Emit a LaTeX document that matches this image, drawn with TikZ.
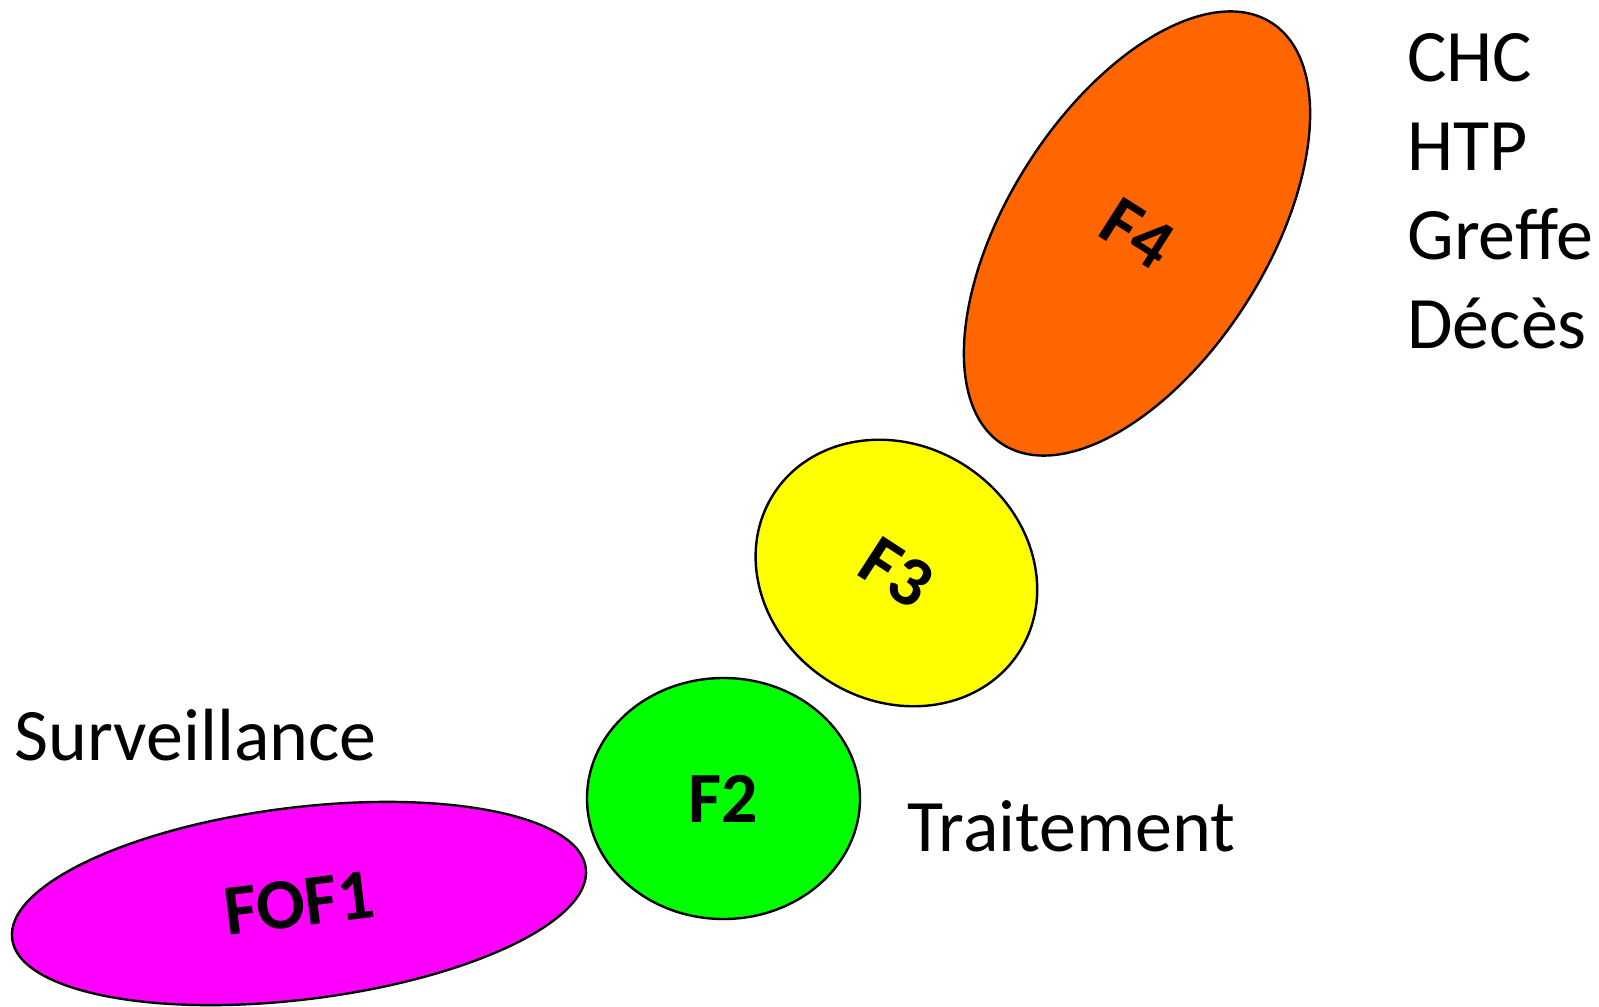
\documentclass[tikz,border=0pt]{standalone}
\usepackage{fontspec}
\setmainfont{Carlito}
\usetikzlibrary{shapes.geometric}
\definecolor{cMag}{HTML}{FF00FF}
\definecolor{cGreen}{HTML}{00FF00}
\definecolor{cYellow}{HTML}{FFFF00}
\definecolor{cOrange}{HTML}{FF6600}
\tikzset{
  blob/.style={ellipse, draw=black, line width=1.2pt, inner sep=0pt,
    font=\fontsize{36}{43}\selectfont\bfseries},
  lbl/.style={anchor=base west, inner sep=0pt, font=\fontsize{37}{44}\selectfont}
}
\begin{document}
\begin{tikzpicture}[x=0.5pt,y=-0.5pt]
\useasboundingbox (0,0) rectangle (1599,1006);
\node[blob, fill=cMag, minimum width=289pt, minimum height=96pt, rotate=7] (fof1) at (299,903.5) {FOF1};
\node[blob, fill=cGreen, minimum width=136.5pt, minimum height=120.5pt] (f2) at (723.5,798.5) {F2};
\node[blob, fill=cYellow, minimum width=146pt, minimum height=127.5pt, rotate=-33] (f3) at (896.4,573) {F3};
\node[blob, fill=cOrange, minimum width=129.5pt, minimum height=250pt, rotate=-32.5] (f4) at (1137,233.5) {F4};
\node[lbl] (surv) at (14,760) {Surveillance};
\node[lbl] (trait) at (907,851.5) {Traitement};
\node[lbl] (chc) at (1407,81.6) {CHC};
\node[lbl] (htp) at (1407,170.6) {HTP};
\node[lbl] (greffe) at (1407,259.6) {Greffe};
\node[lbl] (deces) at (1407,348.6) {Décès};
\end{tikzpicture}
\end{document}
